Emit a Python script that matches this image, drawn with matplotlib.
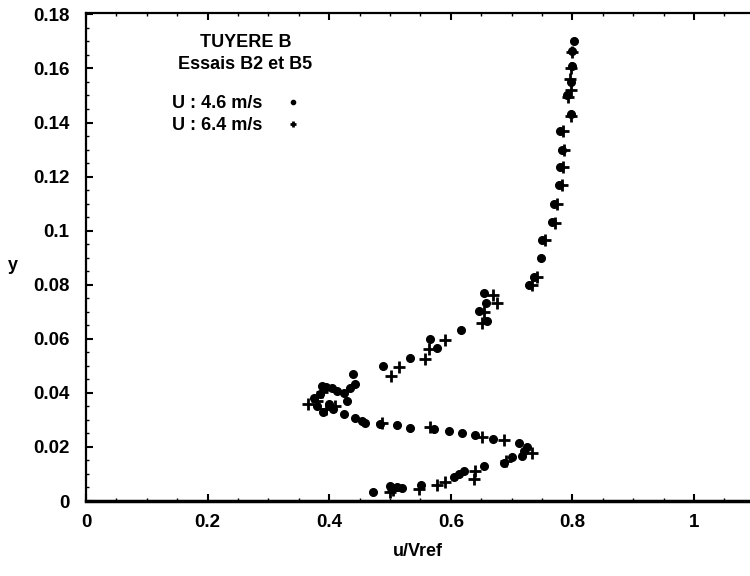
import matplotlib
matplotlib.use("Agg")
import matplotlib.pyplot as plt
from matplotlib.ticker import MultipleLocator

plt.rcParams['font.family'] = ['Liberation Sans', 'DejaVu Sans']
plt.rcParams['font.weight'] = 'bold'

# U = 4.6 m/s (points)
u_46 = [0.802, 0.799, 0.800, 0.797, 0.791, 0.797, 0.780, 0.783, 0.780, 0.778,
        0.769, 0.767, 0.750, 0.748, 0.736, 0.728, 0.654, 0.657, 0.646, 0.660,
        0.616, 0.566, 0.578, 0.532, 0.489, 0.439, 0.443, 0.434, 0.424, 0.413,
        0.404, 0.429, 0.407, 0.424, 0.443, 0.454, 0.459, 0.484, 0.511, 0.532,
        0.572, 0.597, 0.618, 0.640, 0.670, 0.712, 0.725, 0.720, 0.717, 0.701,
        0.687, 0.655, 0.621, 0.613, 0.605, 0.551, 0.500, 0.511, 0.520, 0.472,
        0.388, 0.395, 0.375, 0.380, 0.390, 0.400, 0.385]
y_46 = [0.170, 0.1665, 0.161, 0.155, 0.150, 0.143, 0.137, 0.130, 0.1235, 0.1168,
        0.110, 0.1032, 0.0965, 0.0897, 0.083, 0.080, 0.0769, 0.0732, 0.0703, 0.0664,
        0.0634, 0.0599, 0.0566, 0.0529, 0.0498, 0.0468, 0.0431, 0.0419, 0.040, 0.0406,
        0.0419, 0.0369, 0.034, 0.032, 0.0308, 0.0296, 0.029, 0.0284, 0.0281, 0.0269,
        0.0265, 0.0259, 0.0253, 0.0244, 0.0228, 0.0216, 0.0201, 0.0185, 0.0167, 0.0161,
        0.0142, 0.013, 0.0112, 0.0099, 0.0087, 0.0059, 0.0056, 0.005, 0.0047, 0.0032,
        0.0427, 0.042, 0.038, 0.035, 0.033, 0.036, 0.0395]

# U = 6.4 m/s (crosses)
u_64 = [0.800, 0.797, 0.796, 0.797, 0.793, 0.798, 0.785, 0.786, 0.785, 0.783,
        0.774, 0.772, 0.755, 0.741, 0.733,
        0.670, 0.676, 0.654, 0.651, 0.591, 0.564, 0.558, 0.514, 0.502, 0.388,
        0.365, 0.380, 0.395, 0.410, 0.487, 0.566, 0.651, 0.687, 0.734, 0.690,
        0.640, 0.638, 0.591, 0.577, 0.547, 0.500, 0.505]
y_64 = [0.166, 0.160, 0.156, 0.152, 0.1495, 0.1425, 0.137, 0.130, 0.1235, 0.117,
        0.110, 0.103, 0.0965, 0.083, 0.080,
        0.0762, 0.0732, 0.0699, 0.066, 0.0594, 0.0564, 0.0527, 0.0496, 0.0464, 0.0405,
        0.036, 0.037, 0.034, 0.035, 0.029, 0.0274, 0.0238, 0.0226, 0.0176, 0.0148,
        0.0112, 0.0081, 0.0069, 0.0059, 0.0044, 0.0032, 0.004]

fig = plt.figure(figsize=(7.5, 5.76), dpi=100)
ax = fig.add_axes([0.1147, 0.1302, 0.8853, 0.8472])

ax.plot(u_46, y_46, 'o', color='black', markersize=5.5, label='U : 4.6 m/s')
ax.plot(u_64, y_64, '+', color='black', markersize=9, markeredgewidth=2,
        label='U : 6.4 m/s')

ax.set_xlim(0, 1.092)
ax.set_ylim(0, 0.1805)
ax.xaxis.set_minor_locator(MultipleLocator(0.05))
ax.yaxis.set_minor_locator(MultipleLocator(0.005))
ax.set_xticks([0, 0.2, 0.4, 0.6, 0.8, 1.0])
ax.set_xticklabels(['0', '0.2', '0.4', '0.6', '0.8', '1'])
ax.set_yticks([0, 0.02, 0.04, 0.06, 0.08, 0.1, 0.12, 0.14, 0.16, 0.18])
ax.set_yticklabels(['0', '0.02', '0.04', '0.06', '0.08', '0.1', '0.12', '0.14', '0.16', '0.18'])

ax.tick_params(which='major', direction='in', length=5, width=1.5, labelsize=13.5,
               top=True, pad=12)
ax.tick_params(axis='x', which='major', pad=9)
ax.tick_params(which='minor', direction='in', length=2.5, width=1, top=True)
ax.spines['right'].set_visible(False)
for s in ['left', 'bottom', 'top']:
    ax.spines[s].set_linewidth(1.6)
ax.spines['bottom'].set_linewidth(2.5)

ax.set_xlabel('u/Vref', fontsize=13, fontweight='bold', labelpad=9)
ax.set_ylabel('y', fontsize=13, fontweight='bold', rotation=0)
ax.yaxis.set_label_coords(-0.11, 0.465)

ax.text(0.24, 0.94, 'TUYERE B', transform=ax.transAxes, ha='center', va='center',
        fontsize=13, fontweight='bold')
ax.text(0.24, 0.895, 'Essais B2 et B5', transform=ax.transAxes, ha='center', va='center',
        fontsize=13, fontweight='bold')

leg = ax.legend(loc='upper left', bbox_to_anchor=(0.11, 0.858), frameon=False,
                markerfirst=False, markerscale=0.55, fontsize=13, handlelength=1.0,
                handletextpad=1.2, labelspacing=0.3, borderpad=0.2)

fig.savefig('out.png', dpi=100)
